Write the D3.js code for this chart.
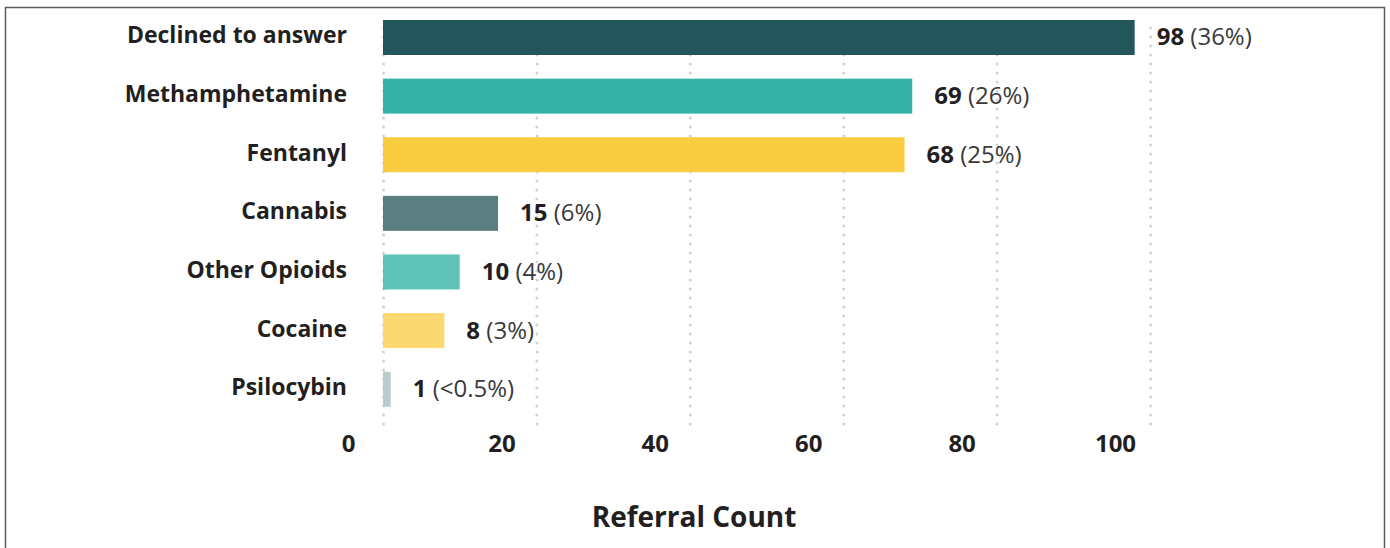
<!DOCTYPE html>
<html>
<head>
<meta charset="utf-8">
<script src="https://cdn.jsdelivr.net/npm/d3@7"></script>
<style>
  html, body { margin: 0; padding: 0; background: #ffffff; }
  svg { display: block; }
  text { font-family: "Open Sans", "Noto Sans", sans-serif; }
</style>
</head>
<body>
<script>
// Referral counts by substance
const categories = ["Declined to answer", "Methamphetamine", "Fentanyl", "Cannabis", "Other Opioids", "Cocaine", "Psilocybin"];
const counts = [98, 69, 68, 15, 10, 8, 1];
const shares = ["36%", "26%", "25%", "6%", "4%", "3%", "<0.5%"];
const barColors = ["#22565a", "#36b2a7", "#f9cc41", "#5b7e80", "#5ec2b7", "#fcd873", "#b9cbcc"];
const xTicks = [0, 20, 40, 60, 80, 100];
const axisTitle = "Referral Count";

const W = 1390, H = 548;
const svg = d3.select("body").append("svg").attr("width", W).attr("height", H);

// outer frame
svg.append("rect")
  .attr("x", 5.5).attr("y", 7.5)
  .attr("width", 1379).attr("height", 560)
  .attr("fill", "#ffffff")
  .attr("stroke", "#5a5a5a").attr("stroke-width", 1.5);

const x = d3.scaleLinear().domain([0, 100]).range([383, 1150]);
const y = d3.scaleBand().domain(categories).range([20, 406.7]).paddingInner(0.403).paddingOuter(0);

// dotted vertical gridlines
const grid = svg.append("g")
  .attr("transform", "translate(0,424)")
  .call(d3.axisBottom(x).tickValues(xTicks).tickSize(-402).tickFormat(""));
grid.select(".domain").remove();
grid.selectAll(".tick line")
  .attr("stroke", "#d2d2d2")
  .attr("stroke-width", 3)
  .attr("stroke-linecap", "round")
  .attr("stroke-dasharray", "0,9");

// x tick labels
const xAxis = svg.append("g")
  .attr("transform", "translate(0,430)")
  .call(d3.axisBottom(x).tickValues(xTicks).tickSize(0).tickPadding(0).tickFormat(d3.format("d")));
xAxis.select(".domain").remove();
xAxis.selectAll(".tick text")
  .attr("x", -35)
  .attr("y", 0)
  .attr("dy", "0")
  .attr("transform", "translate(0,22)")
  .attr("fill", "#231f20")
  .style("font-family", "'Open Sans', sans-serif")
  .style("font-size", "24px")
  .style("font-weight", "700");

// bars
svg.append("g").selectAll("rect")
  .data(categories)
  .join("rect")
  .attr("x", x(0))
  .attr("y", d => y(d))
  .attr("width", (d, i) => x(counts[i]) - x(0))
  .attr("height", y.bandwidth())
  .attr("fill", (d, i) => barColors[i]);

// category labels
svg.append("g").selectAll("text")
  .data(categories)
  .join("text")
  .attr("x", 347)
  .attr("y", d => y(d) + y.bandwidth() / 2 + 6)
  .attr("text-anchor", "end")
  .attr("fill", "#231f20")
  .style("font-size", "23px")
  .style("font-weight", "700")
  .text(d => d);

// value labels: bold count + share in parentheses
const vals = svg.append("g").selectAll("text")
  .data(categories)
  .join("text")
  .attr("x", (d, i) => x(counts[i]) + 22)
  .attr("y", d => y(d) + y.bandwidth() / 2 + 8)
  .attr("fill", "#231f20")
  .style("font-size", "24px");
vals.append("tspan").style("font-weight", "700").text((d, i) => counts[i]);
vals.append("tspan").attr("fill", "#3a3a3a").style("font-weight", "400").text((d, i) => " (" + shares[i] + ")");

// axis title
svg.append("text")
  .attr("x", 694)
  .attr("y", 527)
  .attr("text-anchor", "middle")
  .attr("fill", "#231f20")
  .style("font-size", "28px")
  .style("font-weight", "700")
  .text(axisTitle);
</script>
</body>
</html>
